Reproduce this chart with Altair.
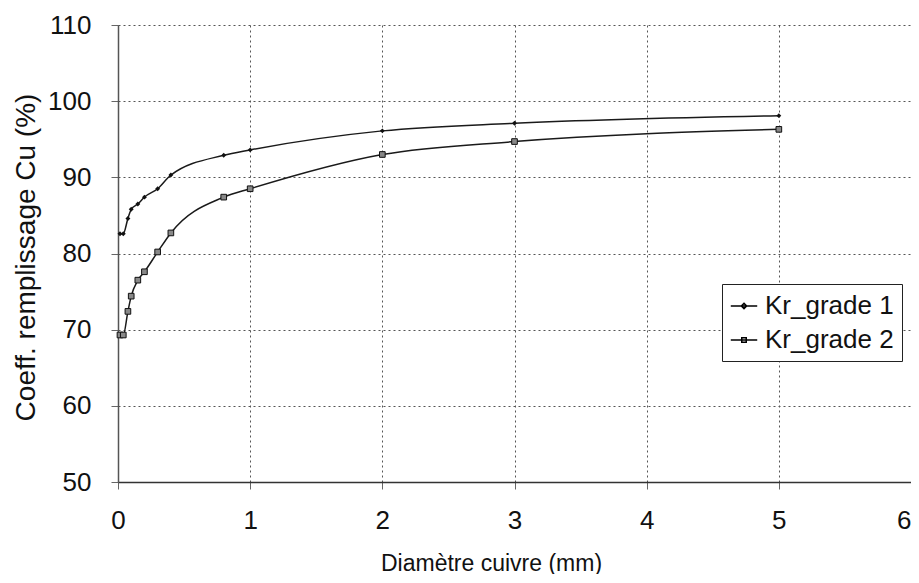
import altair as alt
import pandas as pd

# ---- data ----
diam = [0.015, 0.04, 0.075, 0.1, 0.15, 0.2, 0.3, 0.4, 0.8, 1, 2, 3, 5]
grade1 = [82.6, 82.6, 84.6, 85.8, 86.5, 87.4, 88.5, 90.3, 92.9, 93.6, 96.1, 97.1, 98.1]
grade2 = [69.3, 69.3, 72.4, 74.4, 76.5, 77.6, 80.2, 82.7, 87.4, 88.5, 93.0, 94.7, 96.3]
series_names = ["Kr_grade 1", "Kr_grade 2"]
x_ticks = [0, 1, 2, 3, 4, 5, 6]
y_ticks = [50, 60, 70, 80, 90, 100, 110]

rows = []
for name, vals in zip(series_names, [grade1, grade2]):
    for d, v in zip(diam, vals):
        rows.append({"diam": d, "coef": v, "serie": name})
df = pd.DataFrame(rows)

FONT = "Liberation Sans, Arial, Helvetica, sans-serif"
W, H = 793, 457

x = alt.X(
    "diam:Q",
    scale=alt.Scale(domain=[0, 6], nice=False, zero=False),
    axis=alt.Axis(
        values=x_ticks, format="d", title="Diamètre cuivre (mm)",
        labelFontSize=26, labelFont=FONT, labelColor="#111", labelPadding=18,
        labelAlign={"condition": {"test": "datum.value == 6", "value": "right"}, "value": "center"},
        tickSize=7, tickColor="#666", labelFlush=False,
        grid=True, gridDash=[2, 3], gridColor="#555", gridWidth=1,
        domainColor="#333", domainWidth=1.5,
        titleFontSize=23, titleFont=FONT, titleFontWeight="normal", titleColor="#111",
        titleX=373, titleY=88, titleAlign="center", titleBaseline="alphabetic",
    ),
)
y = alt.Y(
    "coef:Q",
    scale=alt.Scale(domain=[50, 110], nice=False, zero=False),
    axis=alt.Axis(
        values=y_ticks, format="d", title="Coeff. remplissage Cu (%)",
        labelFontSize=26, labelFont=FONT, labelColor="#111", labelPadding=20,
        tickSize=7, tickColor="#666", labelFlush=False,
        grid=True, gridDash=[2, 3], gridColor="#555", gridWidth=1,
        domainColor="#555", domainWidth=1.5,
        titleFontSize=28, titleFont=FONT, titleFontWeight="normal", titleColor="#111",
        titleAngle=270, titleX=-92, titleY=232, titleAlign="center", titleBaseline="middle",
    ),
)

base = alt.Chart(df).encode(x=x, y=y)

line = base.mark_line(interpolate="monotone", color="#1a1a1a", strokeWidth=1.5).encode(
    detail="serie:N"
)
p1 = base.transform_filter(alt.datum.serie == series_names[0]).mark_point(
    shape="diamond", filled=True, color="#111", size=24, opacity=1
)
p2 = base.transform_filter(alt.datum.serie == series_names[1]).mark_point(
    shape="square", filled=True, fill="#888", stroke="#111", strokeWidth=1, size=32, opacity=1
)

sym1 = "M-1,0H1M0,-0.2L0.2,0L0,0.2L-0.2,0Z"
sym2 = "M-1,0H1M-0.17,-0.17H0.17V0.17H-0.17Z"
leg = base.mark_point(size=0, filled=False, color="black", strokeWidth=1.5, opacity=1).encode(
    shape=alt.Shape(
        "serie:N",
        scale=alt.Scale(domain=series_names, range=[sym1, sym2]),
        legend=alt.Legend(
            title=None, orient="none", legendX=604, legendY=259,
            labelFontSize=26, labelFont=FONT, labelColor="#111", labelLimit=400,
            symbolSize=700, symbolStrokeWidth=1.5,
            symbolStrokeColor="black", symbolOpacity=1,
            padding=8, rowPadding=7, labelOffset=7,
            strokeColor="#222", fillColor="white", cornerRadius=0,
        ),
    )
)

chart = alt.layer(line, p1, p2, leg).properties(
    width=W, height=H,
    autosize=alt.AutoSizeParams(type="none"),
    padding={"left": 110, "top": 17, "right": 0, "bottom": 92},
    background="white",
).configure_view(stroke=None)

chart.save("out.html", embed_options={"renderer": "svg", "actions": False})
